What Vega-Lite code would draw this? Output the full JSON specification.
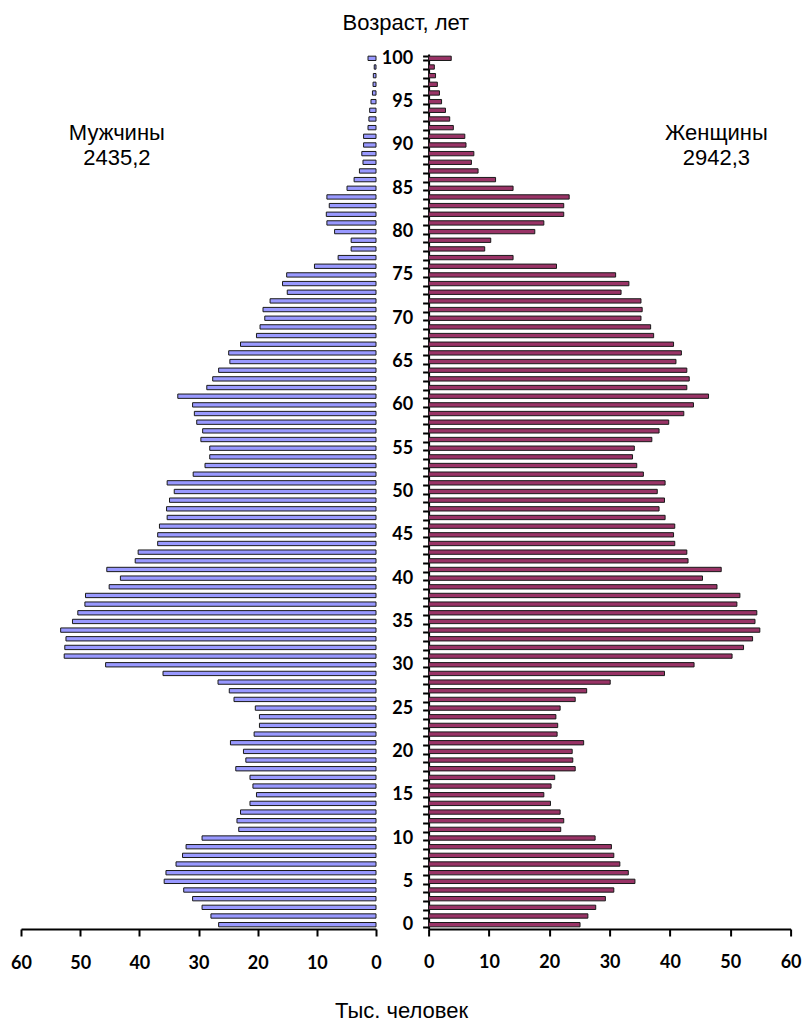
{
  "$schema": "https://vega.github.io/schema/vega-lite/v6.json",
  "padding": {"left": 10, "top": 12, "right": 5, "bottom": 5},
  "background": "white",
  "title": {"text": "Возраст, лет", "font": "Liberation Sans", "fontSize": 22, "fontWeight": "normal", "color": "black", "anchor": "middle", "offset": 10},
  "datasets": {
    "pop": [
      {"age": 0, "m": 26.6, "f": 25.1}, {"age": 1, "m": 27.9, "f": 26.4}, {"age": 2, "m": 29.4, "f": 27.7},
      {"age": 3, "m": 31.0, "f": 29.3}, {"age": 4, "m": 32.5, "f": 30.7}, {"age": 5, "m": 35.8, "f": 34.2},
      {"age": 6, "m": 35.5, "f": 33.1}, {"age": 7, "m": 33.8, "f": 31.7}, {"age": 8, "m": 32.7, "f": 30.7},
      {"age": 9, "m": 32.1, "f": 30.3}, {"age": 10, "m": 29.4, "f": 27.6}, {"age": 11, "m": 23.2, "f": 21.9},
      {"age": 12, "m": 23.5, "f": 22.4}, {"age": 13, "m": 22.9, "f": 21.8}, {"age": 14, "m": 21.3, "f": 20.2},
      {"age": 15, "m": 20.2, "f": 19.1}, {"age": 16, "m": 20.8, "f": 20.3}, {"age": 17, "m": 21.3, "f": 20.9},
      {"age": 18, "m": 23.7, "f": 24.3}, {"age": 19, "m": 22.0, "f": 23.9}, {"age": 20, "m": 22.4, "f": 23.8},
      {"age": 21, "m": 24.6, "f": 25.7}, {"age": 22, "m": 20.6, "f": 21.3}, {"age": 23, "m": 19.7, "f": 21.4},
      {"age": 24, "m": 19.7, "f": 21.1}, {"age": 25, "m": 20.4, "f": 21.8}, {"age": 26, "m": 24.0, "f": 24.3},
      {"age": 27, "m": 24.8, "f": 26.2}, {"age": 28, "m": 26.7, "f": 30.1}, {"age": 29, "m": 36.0, "f": 39.1},
      {"age": 30, "m": 45.7, "f": 44.0}, {"age": 31, "m": 52.7, "f": 50.3}, {"age": 32, "m": 52.6, "f": 52.2},
      {"age": 33, "m": 52.4, "f": 53.7}, {"age": 34, "m": 53.3, "f": 54.9}, {"age": 35, "m": 51.3, "f": 54.1},
      {"age": 36, "m": 50.4, "f": 54.4}, {"age": 37, "m": 49.2, "f": 51.1}, {"age": 38, "m": 49.1, "f": 51.6},
      {"age": 39, "m": 45.1, "f": 47.8}, {"age": 40, "m": 43.2, "f": 45.4}, {"age": 41, "m": 45.5, "f": 48.5},
      {"age": 42, "m": 40.7, "f": 43.0}, {"age": 43, "m": 40.2, "f": 42.8}, {"age": 44, "m": 36.9, "f": 40.8},
      {"age": 45, "m": 36.9, "f": 40.6}, {"age": 46, "m": 36.6, "f": 40.8}, {"age": 47, "m": 35.3, "f": 39.2},
      {"age": 48, "m": 35.4, "f": 38.2}, {"age": 49, "m": 34.9, "f": 39.1}, {"age": 50, "m": 34.1, "f": 37.9},
      {"age": 51, "m": 35.3, "f": 39.2}, {"age": 52, "m": 30.9, "f": 35.6}, {"age": 53, "m": 28.9, "f": 34.5},
      {"age": 54, "m": 28.1, "f": 33.8}, {"age": 55, "m": 28.1, "f": 34.1}, {"age": 56, "m": 29.6, "f": 37.0},
      {"age": 57, "m": 29.3, "f": 38.2}, {"age": 58, "m": 30.3, "f": 39.8}, {"age": 59, "m": 30.7, "f": 42.3},
      {"age": 60, "m": 31.0, "f": 43.9}, {"age": 61, "m": 33.5, "f": 46.4}, {"age": 62, "m": 28.6, "f": 42.8},
      {"age": 63, "m": 27.6, "f": 43.2}, {"age": 64, "m": 26.6, "f": 42.8}, {"age": 65, "m": 24.7, "f": 41.0},
      {"age": 66, "m": 24.9, "f": 41.9}, {"age": 67, "m": 22.9, "f": 40.6}, {"age": 68, "m": 20.2, "f": 37.3},
      {"age": 69, "m": 19.6, "f": 36.8}, {"age": 70, "m": 18.8, "f": 35.2}, {"age": 71, "m": 19.1, "f": 35.4},
      {"age": 72, "m": 17.9, "f": 35.2}, {"age": 73, "m": 15.0, "f": 31.9}, {"age": 74, "m": 15.8, "f": 33.2},
      {"age": 75, "m": 15.1, "f": 31.0}, {"age": 76, "m": 10.4, "f": 21.2}, {"age": 77, "m": 6.4, "f": 14.0},
      {"age": 78, "m": 4.2, "f": 9.3}, {"age": 79, "m": 4.2, "f": 10.3}, {"age": 80, "m": 7.0, "f": 17.6},
      {"age": 81, "m": 8.3, "f": 19.1}, {"age": 82, "m": 8.4, "f": 22.4}, {"age": 83, "m": 7.9, "f": 22.4},
      {"age": 84, "m": 8.3, "f": 23.3}, {"age": 85, "m": 4.9, "f": 14.0}, {"age": 86, "m": 3.7, "f": 11.1},
      {"age": 87, "m": 2.8, "f": 8.2}, {"age": 88, "m": 2.2, "f": 7.1}, {"age": 89, "m": 2.4, "f": 7.5},
      {"age": 90, "m": 2.1, "f": 6.2}, {"age": 91, "m": 2.1, "f": 6.0}, {"age": 92, "m": 1.35, "f": 4.1},
      {"age": 93, "m": 1.2, "f": 3.5}, {"age": 94, "m": 1.07, "f": 2.8}, {"age": 95, "m": 0.85, "f": 2.15},
      {"age": 96, "m": 0.6, "f": 1.8}, {"age": 97, "m": 0.5, "f": 1.45}, {"age": 98, "m": 0.45, "f": 1.15},
      {"age": 99, "m": 0.3, "f": 0.95}, {"age": 100, "m": 1.35, "f": 3.75}
    ],
    "labelsM": [{"age": 91, "m": 43.8, "label": "Мужчины\n2435,2"}],
    "labelsF": [{"age": 91, "f": 47.7, "label": "Женщины\n2942,3"}]
  },
  "spacing": 52.6,
  "bounds": "flush",
  "hconcat": [
    {
      "width": 355,
      "height": 875,
      "encoding": {
        "y": {"field": "age", "type": "ordinal", "sort": "descending", "axis": null,
              "scale": {"paddingInner": 0.5, "paddingOuter": 0.25}},
        "x": {"field": "m", "type": "quantitative",
              "scale": {"domain": [0, 60], "reverse": true, "nice": false},
              "axis": {"values": [0, 10, 20, 30, 40, 50, 60], "tickSize": 7, "labelPadding": 18, "labelFlush": false,
                       "title": "Тыс. человек", "titleX": 380, "titleY": 81, "titleAlign": "center", "titleBaseline": "middle",
                       "titleFont": "Liberation Sans", "titleFontSize": 22, "titleFontWeight": "normal", "titleColor": "black"}}
      },
      "layer": [
        {"data": {"name": "pop"},
         "mark": {"type": "bar", "fill": "#9999FF", "stroke": "#1a1a1a", "strokeWidth": 1}},
        {"data": {"name": "labelsM"},
         "mark": {"type": "text", "font": "Liberation Sans", "fontSize": 22, "color": "black", "lineBreak": "\n", "lineHeight": 25, "align": "center", "baseline": "middle", "dy": -3},
         "encoding": {"text": {"field": "label"}}}
      ]
    },
    {
      "width": 362,
      "height": 875,
      "encoding": {
        "y": {"field": "age", "type": "ordinal", "sort": "descending",
              "scale": {"paddingInner": 0.5, "paddingOuter": 0.25},
              "axis": {"orient": "left", "tickBand": "extent", "tickSize": 6, "labelPadding": 10, "title": null,
                       "labelExpr": "datum.value % 5 === 0 ? datum.label : ''", "labelBaseline": "middle"}},
        "x": {"field": "f", "type": "quantitative",
              "scale": {"domain": [0, 60], "nice": false},
              "axis": {"values": [0, 10, 20, 30, 40, 50, 60], "tickSize": 7, "labelPadding": 17, "labelFlush": false, "title": null}}
      },
      "layer": [
        {"data": {"name": "pop"},
         "mark": {"type": "bar", "fill": "#993366", "stroke": "#1a1a1a", "strokeWidth": 1}},
        {"data": {"name": "labelsF"},
         "mark": {"type": "text", "font": "Liberation Sans", "fontSize": 22, "color": "black", "lineBreak": "\n", "lineHeight": 25, "align": "center", "baseline": "middle", "dy": -3},
         "encoding": {"text": {"field": "label"}}}
      ]
    }
  ],
  "config": {
    "view": {"stroke": null},
    "axis": {"grid": false, "domainColor": "black", "domainWidth": 2, "tickColor": "black", "tickWidth": 2,
             "labelColor": "black", "labelFont": "Lato", "labelFontWeight": "bold", "labelFontSize": 18}
  }
}
